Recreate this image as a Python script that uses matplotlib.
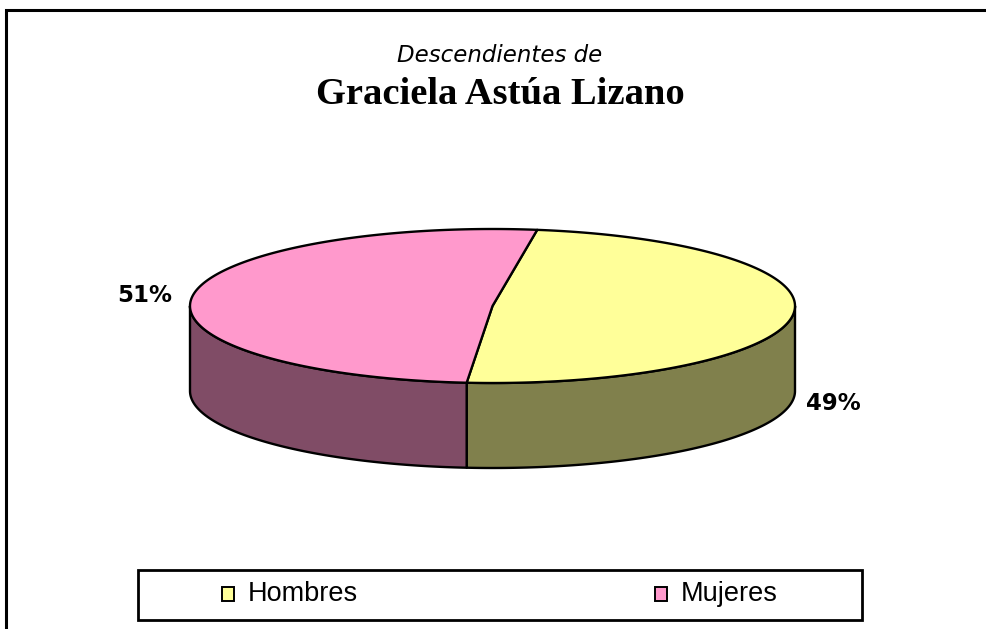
import numpy as np
import matplotlib
matplotlib.use("Agg")
import matplotlib.pyplot as plt
from matplotlib.patches import Polygon, Rectangle

# ---- data ----
categories = ["Hombres", "Mujeres"]
values = [49, 51]
top_colors = ["#FFFF99", "#FF99CC"]
side_colors = ["#80804C", "#804C66"]
subtitle = "Descendientes de"
title = "Graciela Astúa Lizano"

# ---- layout (pixel space) ----
W, H = 986, 629
cx, cy = 492.5, 306.0
a, b = 302.5, 77.0
depth = 85.0
start_deg = 81.5

fig = plt.figure(figsize=(W / 100, H / 100), dpi=100)
ax = fig.add_axes([0, 0, 1, 1])
ax.set_xlim(0, W)
ax.set_ylim(H, 0)
ax.axis("off")

# outer frame (left and top edges visible)
ax.plot([6, 6, W + 5], [H + 5, 10, 10], color="black", lw=2.2, solid_joinstyle="miter",
        clip_on=False)

def ell(t, dz=0.0):
    return cx + a * np.cos(t), cy - b * np.sin(t) + dz

total = float(sum(values))
spans = [v / total * 360.0 for v in values]

# slice angle ranges (clockwise from start)
ranges = []
s = start_deg
for sp in spans:
    ranges.append((s - sp, s))  # (low, high) in degrees
    s -= sp

# side faces (front half: angles in [-180, 0] mod 360)
for (lo, hi), col in zip(ranges, side_colors):
    for k in (-360, 0, 360):
        l2, h2 = max(lo, -180 + k), min(hi, 0 + k)
        if h2 > l2:
            t = np.radians(np.linspace(l2, h2, 200))
            xt, yt = ell(t)
            xb, yb = ell(t[::-1], depth)
            pts = np.column_stack([np.concatenate([xt, xb]), np.concatenate([yt, yb])])
            ax.add_patch(Polygon(pts, closed=True, facecolor=col, edgecolor="black",
                                 lw=1.7, joinstyle="round"))

# top faces
for (lo, hi), col in zip(ranges, top_colors):
    t = np.radians(np.linspace(lo, hi, 300))
    xt, yt = ell(t)
    pts = np.column_stack([np.concatenate([[cx], xt]), np.concatenate([[cy], yt])])
    ax.add_patch(Polygon(pts, closed=True, facecolor=col, edgecolor="black",
                         lw=1.7, joinstyle="round"))

# percentage labels
label_pos = [(833, 403), (145, 295)]
for v, (lx, ly) in zip(values, label_pos):
    ax.text(lx, ly, f"{round(v / total * 100):d}%", ha="center", va="center",
            fontsize=16.5, fontweight="bold", family="DejaVu Sans")

# titles
ax.text(500, 55, subtitle, ha="center", va="center", fontsize=16.5, style="italic",
        family="DejaVu Sans")
ax.text(500, 95, title, ha="center", va="center", fontsize=27.7, fontweight="bold",
        family="Liberation Serif")

# legend
ax.add_patch(Rectangle((138, 570), 724, 50, facecolor="white", edgecolor="black", lw=2))
leg_x = [222, 655]
for name, col, lx in zip(categories, top_colors, leg_x):
    ax.add_patch(Rectangle((lx, 587), 12, 14, facecolor=col, edgecolor="black", lw=1.4))
    ax.text(lx + 26, 594, name, ha="left", va="center", fontsize=19.5,
            family="Liberation Sans")

fig.savefig("out.png", dpi=100)
